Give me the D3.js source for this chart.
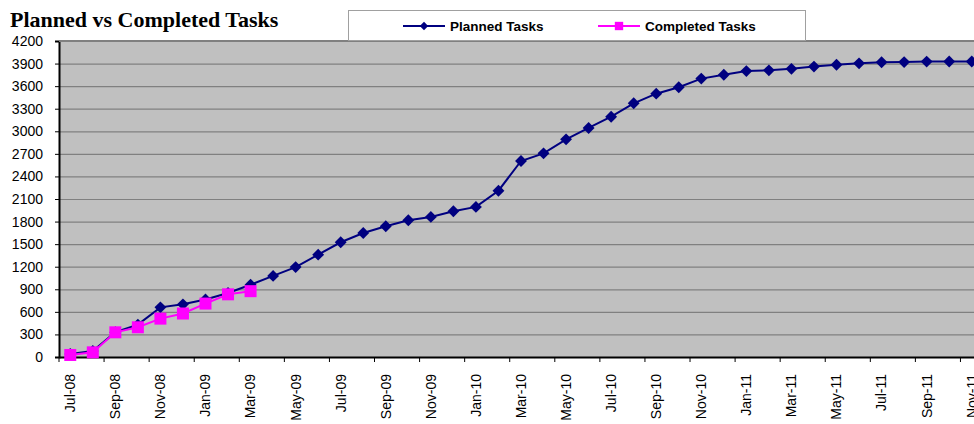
<!DOCTYPE html>
<html>
<head>
<meta charset="utf-8">
<title>Planned vs Completed Tasks</title>
<script src="https://d3js.org/d3.v7.min.js"></script>
<style>
    body { margin: 0; background: #fff; overflow: hidden; }
    .axis text { font-family: Arial, "Liberation Sans", sans-serif; font-size: 14px; fill: #000; }
    .axis path, .axis line { stroke: #000; }
</style>
</head>
<body>
<div id="chart"></div>
<script>
// months (categories)
var months = ["Jul-08","Aug-08","Sep-08","Oct-08","Nov-08","Dec-08",
    "Jan-09","Feb-09","Mar-09","Apr-09","May-09","Jun-09","Jul-09","Aug-09","Sep-09","Oct-09","Nov-09","Dec-09",
    "Jan-10","Feb-10","Mar-10","Apr-10","May-10","Jun-10","Jul-10","Aug-10","Sep-10","Oct-10","Nov-10","Dec-10",
    "Jan-11","Feb-11","Mar-11","Apr-11","May-11","Jun-11","Jul-11","Aug-11","Sep-11","Oct-11","Nov-11"];

// planned tasks, one per month
var planned = [40, 80, 330, 430, 660, 700,
    765, 850, 960, 1078, 1195, 1360, 1525, 1648, 1738, 1818, 1862, 1937,
    1995, 2210, 2605, 2707, 2893, 3044, 3194, 3372, 3500, 3586, 3700, 3752,
    3800, 3810, 3830, 3860, 3885, 3903, 3918, 3920, 3926, 3928, 3928];

// completed tasks (only the first months)
var completed = [27, 62, 328, 395, 510, 578, 710, 833, 875];

var yTicks = d3.range(0, 4201, 300);

var margin = {top: 41, left: 59},
    width = 924,
    height = 316;

var svg = d3.select("#chart").append("svg")
    .attr("width", 974)
    .attr("height", 424);

// title
svg.append("text")
    .attr("x", 10)
    .attr("y", 27)
    .attr("font-family", "'Liberation Serif', serif")
    .attr("font-weight", "bold")
    .attr("font-size", 22)
    .text("Planned vs Completed Tasks");

var g = svg.append("g")
    .attr("transform", "translate(" + margin.left + "," + margin.top + ")");

var x = d3.scaleBand().domain(months).range([0, width]);
var y = d3.scaleLinear().domain([0, 4200]).range([height, 0]);
var cx = function(d, i) { return x(months[i]) + x.bandwidth() / 2; };

// plot area
g.append("rect")
    .attr("width", width)
    .attr("height", height)
    .attr("fill", "#c0c0c0");

// gridlines
g.append("g")
    .selectAll("line")
    .data(yTicks.filter(function(d) { return d > 0; }))
    .enter().append("line")
    .attr("x1", 0)
    .attr("x2", width)
    .attr("y1", function(d) { return y(d) + 0.5; })
    .attr("y2", function(d) { return y(d) + 0.5; })
    .attr("stroke", "#808080")
    .attr("stroke-width", 1.2);

// y axis
var yAxis = g.append("g")
    .attr("class", "axis")
    .call(d3.axisLeft(y).tickValues(yTicks).tickSize(4).tickPadding(12).tickFormat(d3.format("d")));
yAxis.select(".domain").attr("stroke-width", 2);

// x axis labels (every other month)
var labelMonths = months.filter(function(d, i) { return i % 2 === 0; });
var xAxis = g.append("g")
    .attr("class", "axis")
    .attr("transform", "translate(0," + height + ")")
    .call(d3.axisBottom(x).tickValues(labelMonths).tickSize(0).tickPadding(0));
xAxis.select(".domain").attr("stroke-width", 2);
xAxis.selectAll("text")
    .attr("transform", "rotate(-90)")
    .attr("text-anchor", "end")
    .attr("x", -17)
    .attr("y", 0)
    .attr("dy", "0.35em");

// x tick marks at category boundaries
xAxis.selectAll(".bound")
    .data(labelMonths)
    .enter().append("line")
    .attr("class", "bound")
    .attr("x1", function(d) { return x(d); })
    .attr("x2", function(d) { return x(d); })
    .attr("y1", 0)
    .attr("y2", 5)
    .attr("stroke", "#000");

var line = d3.line()
    .x(cx)
    .y(function(d) { return y(d); });

// planned series
g.append("path")
    .datum(planned)
    .attr("fill", "none")
    .attr("stroke", "#000080")
    .attr("stroke-width", 2)
    .attr("d", line);
g.append("g")
    .selectAll("path")
    .data(planned)
    .enter().append("path")
    .attr("d", d3.symbol().type(d3.symbolDiamond2).size(90))
    .attr("transform", function(d, i) { return "translate(" + cx(d, i) + "," + y(d) + ")"; })
    .attr("fill", "#000080");

// completed series
g.append("path")
    .datum(completed)
    .attr("fill", "none")
    .attr("stroke", "#ff00ff")
    .attr("stroke-width", 2)
    .attr("d", line);
g.append("g")
    .selectAll("rect")
    .data(completed)
    .enter().append("rect")
    .attr("x", function(d, i) { return cx(d, i) - 6; })
    .attr("y", function(d) { return y(d) - 6; })
    .attr("width", 12)
    .attr("height", 12)
    .attr("fill", "#ff00ff");

// top border
g.append("line")
    .attr("x1", 0).attr("x2", width)
    .attr("y1", 0).attr("y2", 0)
    .attr("stroke", "#808080")
    .attr("stroke-width", 2);

// legend
var legend = svg.append("g");
legend.append("rect")
    .attr("x", 348.5)
    .attr("y", 10.5)
    .attr("width", 457)
    .attr("height", 30)
    .attr("fill", "#fff")
    .attr("stroke", "#a0a0a0");

var legendItems = [
    {name: "Planned Tasks", color: "#000080", x: 403, shape: "diamond"},
    {name: "Completed Tasks", color: "#ff00ff", x: 598, shape: "square"}
];
var li = legend.selectAll(".item")
    .data(legendItems)
    .enter().append("g")
    .attr("class", "item")
    .attr("transform", function(d) { return "translate(" + d.x + ",26)"; });
li.append("line")
    .attr("x1", 0).attr("x2", 42)
    .attr("stroke", function(d) { return d.color; })
    .attr("stroke-width", 2);
li.append("path")
    .attr("d", function(d) {
        return d.shape === "diamond"
            ? d3.symbol().type(d3.symbolDiamond2).size(45)()
            : d3.symbol().type(d3.symbolSquare).size(70)();
    })
    .attr("transform", "translate(21,0)")
    .attr("fill", function(d) { return d.color; });
li.append("text")
    .attr("x", 47)
    .attr("dy", "0.35em")
    .attr("font-family", "Arial, 'Liberation Sans', sans-serif")
    .attr("font-weight", "bold")
    .attr("font-size", 13.5)
    .text(function(d) { return d.name; });
</script>
</body>
</html>
